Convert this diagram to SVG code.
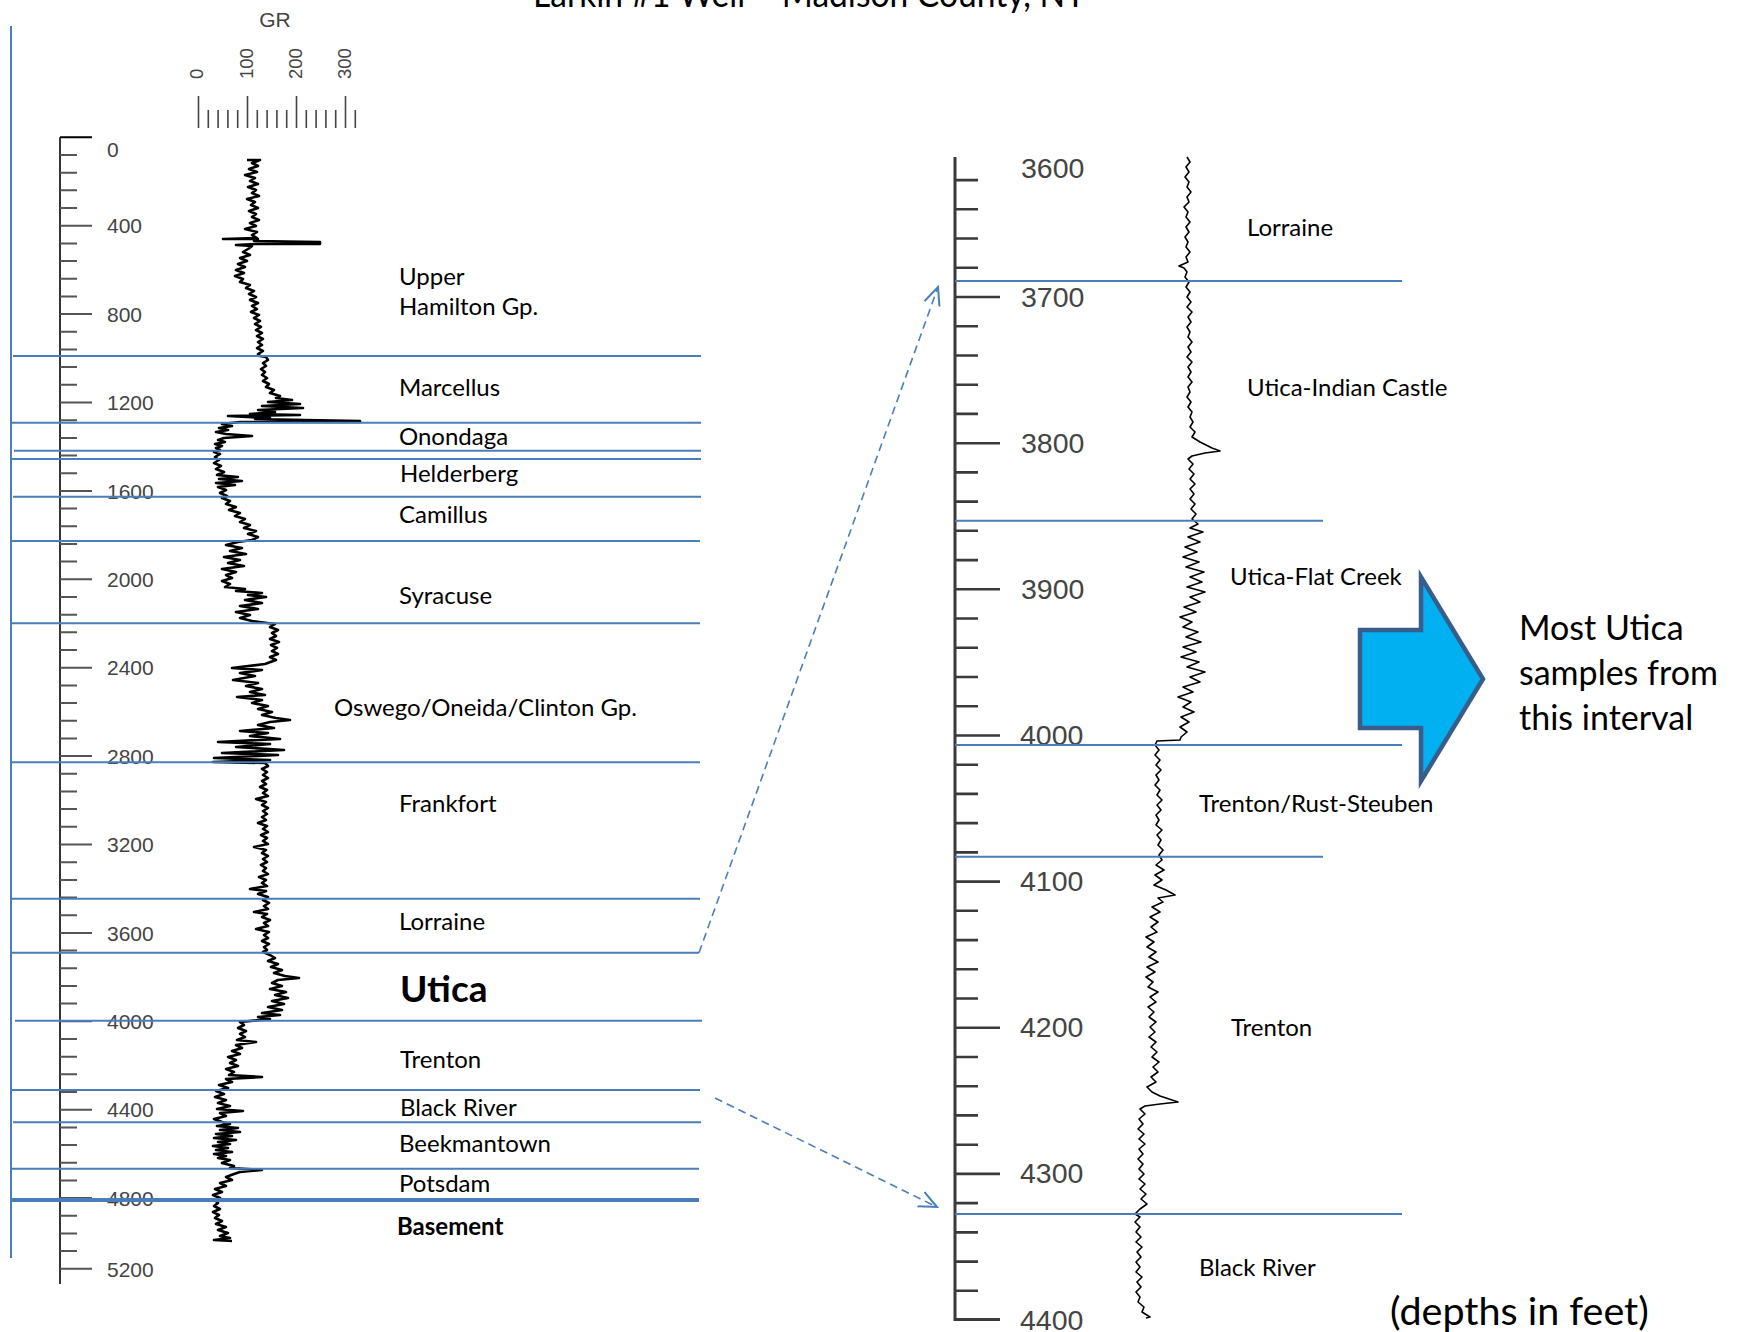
<svg xmlns="http://www.w3.org/2000/svg" width="1741" height="1332" viewBox="0 0 1741 1332">
<defs>
<style>
.lbl{font-family:Lato,"Liberation Sans",sans-serif;font-size:24px;fill:#000}
.bold{font-weight:bold}
.ax{font-family:"Liberation Sans",Arial,sans-serif;fill:#444}
.lax{font-size:21px}
.rax{font-size:28.5px}
.bl{stroke:#4a7ebb;stroke-width:2;fill:none}
.dash{stroke:#4a7ebb;stroke-width:1.6;fill:none;stroke-dasharray:8 5}
.tk{stroke:#555;stroke-width:2;fill:none}
.log{fill:none;stroke:#000;stroke-linejoin:round}
</style>
<marker id="open" markerUnits="userSpaceOnUse" markerWidth="20" markerHeight="20" viewBox="0 0 10 10" refX="9" refY="5" orient="auto">
<path d="M0,1 L9,5 L0,9" fill="none" stroke="#4a7ebb" stroke-width="1"/>
</marker>
</defs>
<rect width="1741" height="1332" fill="#fff"/>

<g id="title">
<text x="533" y="7" style="font-family:Lato,'Liberation Sans',sans-serif;font-size:36px" textLength="553" lengthAdjust="spacingAndGlyphs">Larkin #1 Well – Madison County, NY</text>
</g>

<g id="left-frame">
<line x1="11" y1="26" x2="11" y2="1258" class="bl"/>
</g>

<g id="gr-scale">
<text x="275" y="27" class="ax" style="font-size:21px" text-anchor="middle">GR</text>
<text transform="translate(203,79) rotate(-90)" class="ax" style="font-size:18.5px">0</text>
<text transform="translate(253,79) rotate(-90)" class="ax" style="font-size:18.5px">100</text>
<text transform="translate(301.5,79) rotate(-90)" class="ax" style="font-size:18.5px">200</text>
<text transform="translate(350.5,79) rotate(-90)" class="ax" style="font-size:18.5px">300</text>
<path d="M198.5,96V128 M247.5,96V128 M296.5,96V128 M345.5,96V128" stroke="#444" stroke-width="1.6"/>
<path d="M208.3,110V128 M218.1,110V128 M227.9,110V128 M237.7,110V128 M257.3,110V128 M267.1,110V128 M276.9,110V128 M286.7,110V128 M306.3,110V128 M316.1,110V128 M325.9,110V128 M335.7,110V128 M355.3,110V128" stroke="#444" stroke-width="1.6"/>
</g>

<g id="left-depth-axis">
<line x1="60" y1="137.3" x2="60" y2="1284" stroke="#000" stroke-width="1.6"/>
<path class="tk" d="M60,137.3H92 M60,225.7H92 M60,314.1H92 M60,402.5H92 M60,490.9H92 M60,579.3H92 M60,667.7H92 M60,756.1H92 M60,844.5H92 M60,932.9H92 M60,1021.3H92 M60,1109.7H92 M60,1198.1H92 M60,1268.8H92"/>
<path class="tk" d="M60,155H77 M60,172.7H77 M60,190.3H77 M60,208H77 M60,243.4H77 M60,261.1H77 M60,278.7H77 M60,296.4H77 M60,331.8H77 M60,349.5H77 M60,367.1H77 M60,384.8H77 M60,420.2H77 M60,437.9H77 M60,455.5H77 M60,473.2H77 M60,508.6H77 M60,526.3H77 M60,543.9H77 M60,561.6H77 M60,597H77 M60,614.7H77 M60,632.3H77 M60,650H77 M60,685.4H77 M60,703.1H77 M60,720.7H77 M60,738.4H77 M60,773.8H77 M60,791.5H77 M60,809.1H77 M60,826.8H77 M60,862.2H77 M60,879.9H77 M60,897.5H77 M60,915.2H77 M60,950.6H77 M60,968.3H77 M60,985.9H77 M60,1003.6H77 M60,1039H77 M60,1056.7H77 M60,1074.3H77 M60,1092H77 M60,1127.4H77 M60,1145.1H77 M60,1162.7H77 M60,1180.4H77 M60,1215.8H77 M60,1233.5H77 M60,1251.1H77"/>
<line x1="60" y1="137.3" x2="92" y2="137.3" stroke="#000" stroke-width="1.6"/>
<g class="ax lax">
<text x="107" y="157">0</text>
<text x="107" y="233">400</text>
<text x="107" y="321.5">800</text>
<text x="107" y="410">1200</text>
<text x="107" y="498.5">1600</text>
<text x="107" y="587">2000</text>
<text x="107" y="675">2400</text>
<text x="107" y="763.5">2800</text>
<text x="107" y="852">3200</text>
<text x="107" y="940.5">3600</text>
<text x="107" y="1029">4000</text>
<text x="107" y="1117">4400</text>
<text x="107" y="1205.5">4800</text>
<text x="107" y="1276.5">5200</text>
</g>
</g>

<g id="left-gr-log">
<polyline class="log" stroke-width="2.6" points="247,160 260,160 252,163 258,166 249,169 257,172 245,175 255,178 250,181 258,184 248,187 256,190 252,193 259,196 247,199 255,202 251,205 258,208 249,211 256,214 252,217 259,220 250,223 256,226 245,229 257,232 252,235 257,238 223,239 258,239 254,241 320,242 320,244 255,244 236,245 252,246 248,249 243,252 250,255 240,258 247,261 238,264 245,267 236,270 244,273 235,276 243,279 240,282 250,285 246,288 254,291 249,294 256,297 250,300 258,303 252,306 257,309 251,312 259,315 254,318 260,321 255,324 261,327 256,330 262,333 257,336 263,339 258,342 262,345 257,348 263,351 258,354 260,356 266,357 268,360 263,363 266,366 261,369 265,372 262,375 267,378 263,381 269,384 266,387 274,390 270,393 280,396 276,398 292,400 268,402 300,404 262,406 303,408 258,410 275,412 250,414 300,415 228,416 270,418 255,419 305,420 360,421 360,422 240,422 222,424 232,426 219,428 228,430 216,432 226,434 252,436 224,438 218,440 225,442 215,444 222,446 216,448 220,450 214,452 220,454 215,457 219,460 214,463 221,466 216,469 224,472 217,475 238,477 219,479 242,481 216,483 235,485 218,487 226,490 220,493 227,496 222,498 230,501 226,504 236,507 229,510 240,513 235,516 245,519 240,522 250,525 244,528 256,531 248,534 258,537 252,540 238,542 226,545 242,548 230,551 246,554 224,557 240,560 228,563 244,566 222,569 236,572 226,575 232,578 222,581 230,584 225,587 245,589 236,591 262,593 248,595 266,597 245,600 262,603 240,606 258,609 236,612 250,615 240,618 252,621 275,624 270,627 278,630 272,633 276,636 270,639 279,642 271,645 277,648 272,651 278,654 270,657 276,660 265,664 232,668 262,670 240,673 255,676 233,680 258,683 246,686 262,689 250,692 265,695 237,697 262,700 252,703 268,706 258,709 272,712 262,715 276,718 290,720 270,722 258,725 274,728 240,731 268,733 250,736 280,739 218,742 270,744 236,747 284,750 222,753 278,755 214,758 270,760 213,762 265,763 268,766 262,769 267,772 263,775 268,778 262,781 266,784 260,787 267,790 263,793 268,796 256,799 266,802 262,805 268,808 263,811 267,814 262,817 266,820 258,823 267,826 263,829 268,832 261,835 267,838 263,841 268,844 254,847 266,850 262,853 268,856 263,859 267,862 261,865 266,868 263,871 268,874 259,877 266,880 262,883 267,886 250,889 266,891 258,894 268,897 263,900 269,903 264,906 268,909 254,912 267,914 262,917 270,920 264,923 268,926 256,929 269,932 264,935 268,938 262,941 269,944 264,947 267,950 263,952 270,955 275,958 268,961 278,964 271,967 282,970 274,973 285,976 299,978 278,980 272,983 282,986 270,989 286,992 275,995 288,998 272,1001 284,1004 268,1007 282,1010 262,1013 280,1015 258,1017 270,1019 240,1022 244,1025 238,1028 246,1031 240,1034 245,1037 237,1040 256,1042 236,1045 242,1048 232,1051 240,1054 228,1057 236,1060 230,1063 238,1066 226,1069 234,1072 229,1075 262,1077 226,1079 232,1082 219,1085 228,1088 216,1091 224,1094 215,1097 226,1100 218,1103 230,1106 217,1109 243,1111 220,1113 226,1116 214,1119 222,1122 230,1124 217,1126 238,1128 220,1130 240,1132 216,1134 232,1136 214,1138 236,1140 218,1142 230,1144 213,1146 228,1148 216,1150 232,1152 214,1154 226,1156 218,1158 230,1160 222,1163 234,1166 230,1168 262,1170 240,1172 234,1174 226,1177 232,1180 220,1183 226,1186 215,1189 222,1192 213,1195 220,1198 215,1200 218,1203 214,1206 220,1209 213,1212 219,1215 215,1218 222,1221 216,1224 226,1227 218,1230 228,1233 220,1236 230,1238 214,1240 232,1241"/>
</g>

<g id="left-boundaries">
<line x1="13" y1="356" x2="701" y2="356" class="bl"/>
<line x1="12" y1="422.7" x2="701" y2="422.7" class="bl"/>
<line x1="14" y1="450.7" x2="701" y2="450.7" class="bl"/>
<line x1="12" y1="459" x2="701" y2="459" class="bl"/>
<line x1="13" y1="496.7" x2="701" y2="496.7" class="bl"/>
<line x1="12" y1="541" x2="700" y2="541" class="bl"/>
<line x1="11" y1="623.3" x2="700" y2="623.3" class="bl"/>
<line x1="11" y1="762.3" x2="700" y2="762.3" class="bl"/>
<line x1="11" y1="898.7" x2="700" y2="898.7" class="bl"/>
<line x1="11" y1="952.7" x2="699" y2="952.7" class="bl"/>
<line x1="15" y1="1020.7" x2="702" y2="1020.7" class="bl"/>
<line x1="11" y1="1090" x2="700" y2="1090" class="bl"/>
<line x1="13" y1="1122.3" x2="701" y2="1122.3" class="bl"/>
<line x1="11" y1="1168.7" x2="699" y2="1168.7" class="bl"/>
<line x1="11" y1="1200" x2="699" y2="1200" stroke="#4a7ebb" stroke-width="4"/>
</g>

<g id="left-formations">
<text class="lbl" x="399" y="285">Upper</text>
<text class="lbl" x="399" y="315">Hamilton Gp.</text>
<text class="lbl" x="399" y="395.7">Marcellus</text>
<text class="lbl" x="399" y="445">Onondaga</text>
<text class="lbl" x="400" y="482.3">Helderberg</text>
<text class="lbl" x="399" y="522.5">Camillus</text>
<text class="lbl" x="399" y="604">Syracuse</text>
<text class="lbl" x="334" y="716">Oswego/Oneida/Clinton Gp.</text>
<text class="lbl" x="399" y="812">Frankfort</text>
<text class="lbl" x="399" y="929.5">Lorraine</text>
<text class="lbl bold" x="400" y="1001.7" style="font-size:37px">Utica</text>
<text class="lbl" x="400" y="1068.3">Trenton</text>
<text class="lbl" x="400" y="1116">Black River</text>
<text class="lbl" x="399" y="1152">Beekmantown</text>
<text class="lbl" x="399" y="1191.7">Potsdam</text>
<text class="lbl bold" x="397" y="1235" style="font-size:24px">Basement</text>
</g>

<g id="right-depth-axis">
<path d="M955,157V1319.5H1000" stroke="#3a3a3a" stroke-width="3" fill="none"/>
<path d="M955,297H1000 M955,443.2H1000 M955,589.3H1000 M955,735.5H1000 M955,881.6H1000 M955,1027.8H1000 M955,1173.9H1000" stroke="#3a3a3a" stroke-width="2.6"/>
<path d="M955,180.1H978 M955,209.3H978 M955,238.5H978 M955,267.8H978 M955,326.2H978 M955,355.5H978 M955,384.7H978 M955,413.9H978 M955,472.4H978 M955,501.6H978 M955,530.8H978 M955,560.1H978 M955,618.5H978 M955,647.8H978 M955,677H978 M955,706.2H978 M955,764.7H978 M955,793.9H978 M955,823.1H978 M955,852.4H978 M955,910.8H978 M955,940.1H978 M955,969.3H978 M955,998.5H978 M955,1057H978 M955,1086.2H978 M955,1115.4H978 M955,1144.7H978 M955,1203.1H978 M955,1232.4H978 M955,1261.6H978 M955,1290.8H978" stroke="#3a3a3a" stroke-width="2.6"/>
<g class="ax rax">
<text x="1021" y="178">3600</text>
<text x="1021" y="307">3700</text>
<text x="1021" y="453">3800</text>
<text x="1021" y="599">3900</text>
<text x="1020" y="745">4000</text>
<text x="1020" y="891">4100</text>
<text x="1020" y="1037">4200</text>
<text x="1020" y="1183">4300</text>
<text x="1020" y="1330">4400</text>
</g>
</g>

<g id="right-gr-log">
<polyline class="log" stroke-width="1.6" points="1187,157 1190,162 1186,167 1189,172 1185,177 1189,182 1187,187 1191,192 1187,197 1189,202 1184,207 1188,212 1186,217 1190,222 1186,227 1189,232 1185,237 1188,242 1186,247 1190,252 1186,257 1188,262 1179,266 1184,268 1187,272 1185,277 1189,282 1186,287 1190,292 1187,297 1191,302 1187,307 1192,312 1188,317 1191,322 1187,327 1190,332 1188,337 1192,342 1188,347 1191,352 1187,357 1192,362 1188,367 1191,372 1188,377 1192,382 1188,387 1190,392 1187,397 1191,402 1188,407 1192,412 1190,417 1193,422 1190,427 1195,432 1192,437 1200,442 1212,448 1220,451 1205,453 1192,456 1188,459 1193,464 1189,469 1194,474 1190,479 1195,484 1190,489 1194,494 1190,499 1195,504 1191,509 1196,514 1192,519 1198,524 1190,528 1203,532 1188,537 1200,542 1185,547 1197,552 1183,557 1199,562 1186,567 1204,572 1190,577 1202,582 1187,587 1205,592 1190,597 1200,602 1184,607 1196,612 1180,617 1192,622 1183,627 1198,632 1186,637 1201,642 1183,647 1196,652 1181,657 1199,662 1187,667 1205,672 1190,677 1200,682 1183,687 1193,692 1178,697 1191,702 1183,707 1194,712 1181,717 1189,722 1180,727 1187,732 1181,737 1180,740 1157,741 1155,745 1159,750 1155,755 1160,760 1156,765 1161,770 1156,775 1159,780 1155,785 1160,790 1157,795 1162,800 1157,805 1161,810 1156,815 1159,820 1156,825 1162,830 1157,835 1161,840 1158,845 1163,850 1159,855 1162,860 1156,865 1164,870 1155,875 1162,880 1154,885 1166,890 1175,895 1158,898 1163,902 1152,907 1160,912 1150,917 1158,922 1151,927 1157,932 1146,937 1154,942 1147,947 1156,952 1149,957 1158,962 1147,967 1155,972 1146,977 1153,982 1148,987 1158,992 1150,997 1156,1002 1148,1007 1154,1012 1149,1017 1156,1022 1150,1027 1155,1032 1149,1037 1156,1042 1151,1047 1157,1052 1152,1057 1159,1062 1153,1067 1158,1072 1151,1077 1156,1082 1147,1087 1152,1092 1160,1096 1178,1102 1160,1104 1145,1106 1140,1109 1145,1114 1139,1119 1143,1124 1138,1129 1144,1134 1139,1139 1145,1144 1139,1149 1143,1154 1138,1159 1143,1164 1139,1169 1144,1174 1139,1179 1145,1184 1140,1189 1146,1194 1141,1199 1147,1204 1140,1209 1135,1214 1140,1217 1135,1222 1140,1227 1136,1232 1141,1237 1136,1242 1142,1247 1137,1252 1141,1257 1136,1262 1140,1267 1136,1272 1142,1277 1137,1282 1141,1287 1136,1292 1140,1297 1138,1302 1144,1307 1142,1312 1150,1317 1146,1318"/>
</g>

<g id="right-boundaries">
<line x1="955" y1="281" x2="1402" y2="281" class="bl"/>
<line x1="955" y1="520.7" x2="1323" y2="520.7" class="bl"/>
<line x1="955" y1="745" x2="1402" y2="745" class="bl"/>
<line x1="955" y1="856.7" x2="1323" y2="856.7" class="bl"/>
<line x1="955" y1="1214" x2="1402" y2="1214" class="bl"/>
</g>

<g id="right-formations">
<text class="lbl" x="1247" y="236">Lorraine</text>
<text class="lbl" x="1247" y="396">Utica-Indian Castle</text>
<text class="lbl" x="1230" y="585">Utica-Flat Creek</text>
<text class="lbl" x="1199" y="811.7">Trenton/Rust-Steuben</text>
<text class="lbl" x="1231" y="1036">Trenton</text>
<text class="lbl" x="1199" y="1275.7">Black River</text>
</g>

<g id="connectors">
<path class="dash" d="M699,952.7 L938,287" marker-end="url(#open)"/>
<path class="dash" d="M715,1098 L937,1207" marker-end="url(#open)"/>
</g>

<g id="callout-arrow">
<polygon points="1360,630 1421,630 1421,577 1483,679 1421,781 1421,728 1360,728" fill="#00b0f0" stroke="#385d8a" stroke-width="4.5" stroke-linejoin="miter"/>
</g>

<g id="callout-text">
<text class="lbl" style="font-size:34px" x="1519" y="640">Most Utica</text>
<text class="lbl" style="font-size:34px" x="1519" y="685">samples from</text>
<text class="lbl" style="font-size:34px" x="1519" y="730">this interval</text>
</g>

<g id="note">
<text class="lbl" style="font-size:39.5px" x="1390" y="1325">(depths in feet)</text>
</g>
</svg>
